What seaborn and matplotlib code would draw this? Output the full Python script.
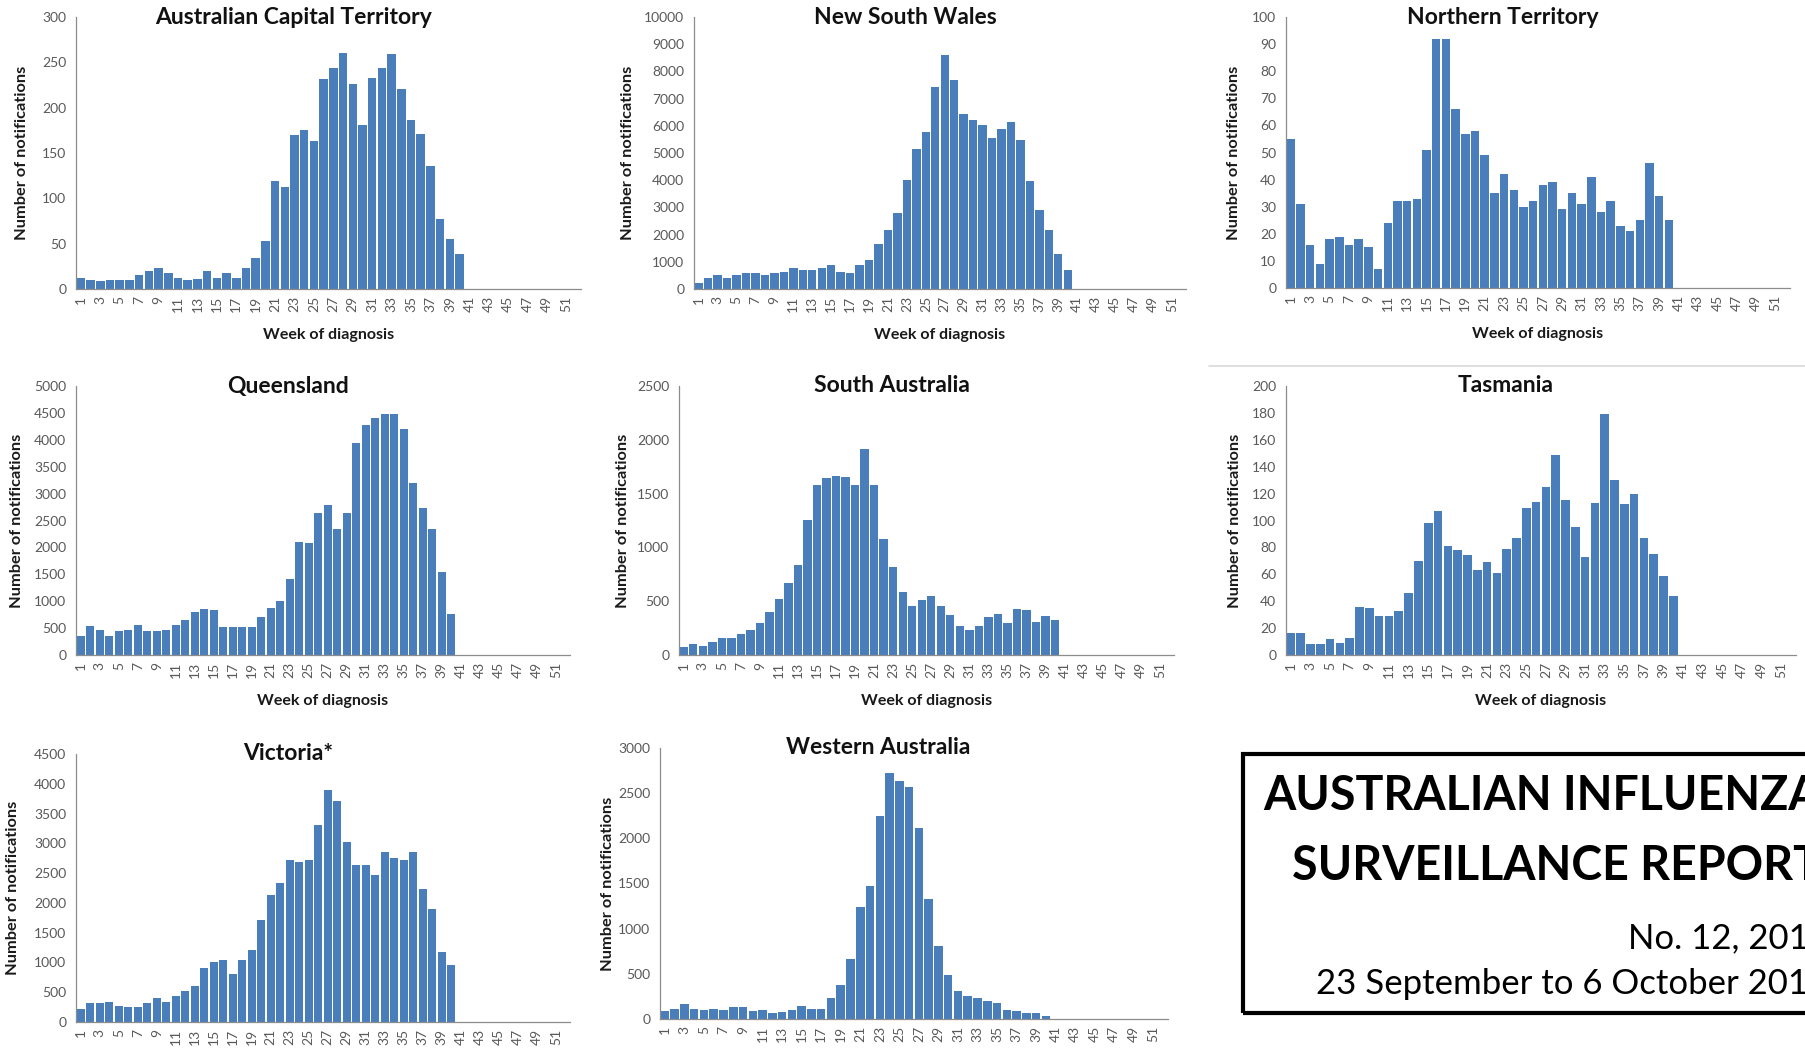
import matplotlib
matplotlib.use('Agg')
import matplotlib.pyplot as plt
import seaborn as sns
import pandas as pd
from matplotlib.lines import Line2D
from matplotlib.patches import Rectangle

# Weekly notifications of lab-confirmed influenza by state, weeks 1-40 reported
weeks = list(range(1, 53))
reported_weeks = list(range(1, 41))

act = [12, 10, 9, 10, 10, 10, 15, 20, 23, 18, 12, 10, 11, 20, 12, 18, 12, 23, 34, 53,
       119, 113, 170, 175, 163, 232, 244, 260, 226, 181, 233, 244, 259, 221, 186, 171, 136, 77, 55, 39]
nsw = [220, 390, 500, 415, 510, 600, 600, 510, 600, 635, 760, 700, 700, 760, 870, 620, 600, 900, 1050, 1640,
       2160, 2790, 4020, 5160, 5760, 7420, 8620, 7690, 6420, 6210, 6030, 5560, 5900, 6140, 5490, 3960, 2900, 2160, 1280, 700]
nt = [55, 31, 16, 9, 18, 19, 16, 18, 15, 7, 24, 32, 32, 33, 51, 92, 92, 66, 57, 58,
      49, 35, 42, 36, 30, 32, 38, 39, 29, 35, 31, 41, 28, 32, 23, 21, 25, 46, 34, 25]
qld = [357, 535, 461, 357, 455, 467, 566, 455, 455, 467, 566, 646, 793, 861, 830, 529, 517, 517, 517, 707,
       873, 1002, 1421, 2103, 2085, 2638, 2786, 2343, 2638, 3942, 4268, 4410, 4477, 4477, 4207, 3198, 2724, 2337, 1544, 756]
sa = [74, 101, 86, 117, 160, 160, 191, 228, 301, 397, 523, 673, 833, 1252, 1578, 1648, 1667, 1651, 1578, 1913,
      1584, 1079, 815, 584, 455, 510, 544, 452, 375, 265, 234, 271, 354, 381, 301, 427, 415, 311, 366, 326]
tas = [16, 16, 8, 8, 12, 9, 13, 36, 35, 29, 29, 33, 46, 70, 98, 107, 81, 78, 74, 63,
       69, 61, 79, 87, 109, 114, 125, 149, 115, 95, 73, 113, 179, 130, 112, 120, 87, 75, 59, 44]
vic = [210, 320, 320, 342, 276, 248, 248, 320, 403, 342, 442, 525, 607, 900, 1000, 1038, 800, 1049, 1204, 1717,
       2126, 2336, 2728, 2689, 2717, 3313, 3893, 3711, 3015, 2639, 2639, 2463, 2860, 2761, 2722, 2860, 2225, 1905, 1182, 955]
wa = [85, 111, 166, 114, 103, 107, 100, 129, 129, 92, 103, 66, 77, 103, 148, 111, 111, 232, 380, 664,
      1244, 1476, 2250, 2720, 2640, 2570, 2110, 1328, 804, 491, 310, 255, 232, 196, 181, 103, 85, 70, 63, 33]

titles = ['Australian Capital Territory', 'New South Wales', 'Northern Territory',
          'Queensland', 'South Australia', 'Tasmania', 'Victoria*', 'Western Australia']
series = [act, nsw, nt, qld, sa, tas, vic, wa]
y_max = [300, 10000, 100, 5000, 2500, 200, 4500, 3000]
y_step = [50, 1000, 10, 500, 500, 20, 500, 500]

W, H = 1805, 1050
BAR = '#4a7ebb'
AXIS = '#8c8c8c'
TICK_TXT = '#595959'

# axes boxes in pixels: left, right, top, bottom, gap from axis to y label
boxes = [
    (76, 581, 17, 289, 47), (694, 1186, 17, 289, 59), (1286, 1790, 17, 288, 45),
    (76, 570, 386, 655, 52), (679, 1174, 386, 655, 49), (1286, 1796, 386, 655, 44),
    (76, 570, 754, 1022, 56), (660, 1168, 748, 1019, 45),
]

sns.set_theme(style='white')
plt.rcParams['font.family'] = ['Lato', 'DejaVu Sans']

fig = plt.figure(figsize=(W / 100, H / 100), dpi=100)

for i, (title, vals) in enumerate(zip(titles, series)):
    l, r, t, b, gap = boxes[i]
    ax = fig.add_axes([l / W, 1 - b / H, (r - l) / W, (b - t) / H])
    df = pd.DataFrame({'week': reported_weeks, 'count': vals})
    sns.barplot(data=df, x='week', y='count', order=weeks, color=BAR,
                saturation=1, width=0.88, edgecolor='none', ax=ax)

    ax.set_xlim(-0.5, 51.5)
    ax.set_ylim(0, y_max[i])
    ax.set_yticks(range(0, y_max[i] + 1, y_step[i]))
    ax.set_xticks(range(0, 52, 2))
    ax.set_xticklabels([str(w) for w in weeks[::2]], rotation=90)
    ax.set_xticks([k - 0.5 for k in range(53)], minor=True)
    ax.tick_params(axis='x', which='major', length=0, pad=5, labelsize=10, labelcolor=TICK_TXT)
    ax.tick_params(axis='x', which='minor', length=4, width=0.8, color=AXIS, direction='out')
    ax.tick_params(axis='y', length=4, width=0.8, color=AXIS, direction='out',
                   labelsize=10, labelcolor=TICK_TXT, pad=3)

    sns.despine(ax=ax)
    for side in ('left', 'bottom'):
        ax.spines[side].set_color(AXIS)
        ax.spines[side].set_linewidth(0.9)

    ax.set_ylabel('Number of notifications', fontsize=11.8, fontweight='bold', color='#1a1a1a')
    ax.yaxis.set_label_coords(-gap / (r - l), 0.5)
    if i < 6:
        ax.set_xlabel('Week of diagnosis', fontsize=11.5, fontweight='bold', color='#1a1a1a')
        ax.xaxis.set_label_coords(0.5, -39 / (b - t))
    else:
        ax.set_xlabel('')
    ax.text(0.43, 1.0, title, transform=ax.transAxes, ha='center', va='center',
            fontsize=16.5, fontweight='bold', color='#111111')

# thin separator line at the right of the page
fig.add_artist(Line2D([1209 / W, 1.0], [1 - 366 / H, 1 - 366 / H], transform=fig.transFigure,
                      color='#d9d9d9', lw=1.2))

# report heading box, running off the right edge of the page
fig.add_artist(Rectangle((1243 / W, 1 - 1013 / H), 620 / W, (1013 - 754) / H,
                         transform=fig.transFigure, fill=False, lw=3, ec='black'))
fig.text(1263 / W, 1 - 796 / H, 'AUSTRALIAN INFLUENZA', ha='left', va='center',
         fontsize=33.5, fontweight='bold', color='black')
fig.text(1292 / W, 1 - 866 / H, 'SURVEILLANCE REPORT', ha='left', va='center',
         fontsize=33.5, fontweight='bold', color='black')
fig.text(1628 / W, 1 - 938 / H, 'No. 12, 2019', ha='left', va='center',
         fontsize=25, color='black')
fig.text(1316 / W, 1 - 984 / H, '23 September to 6 October 2019', ha='left', va='center',
         fontsize=25, color='black')

fig.savefig('out.png', dpi=100)
plt.close(fig)
